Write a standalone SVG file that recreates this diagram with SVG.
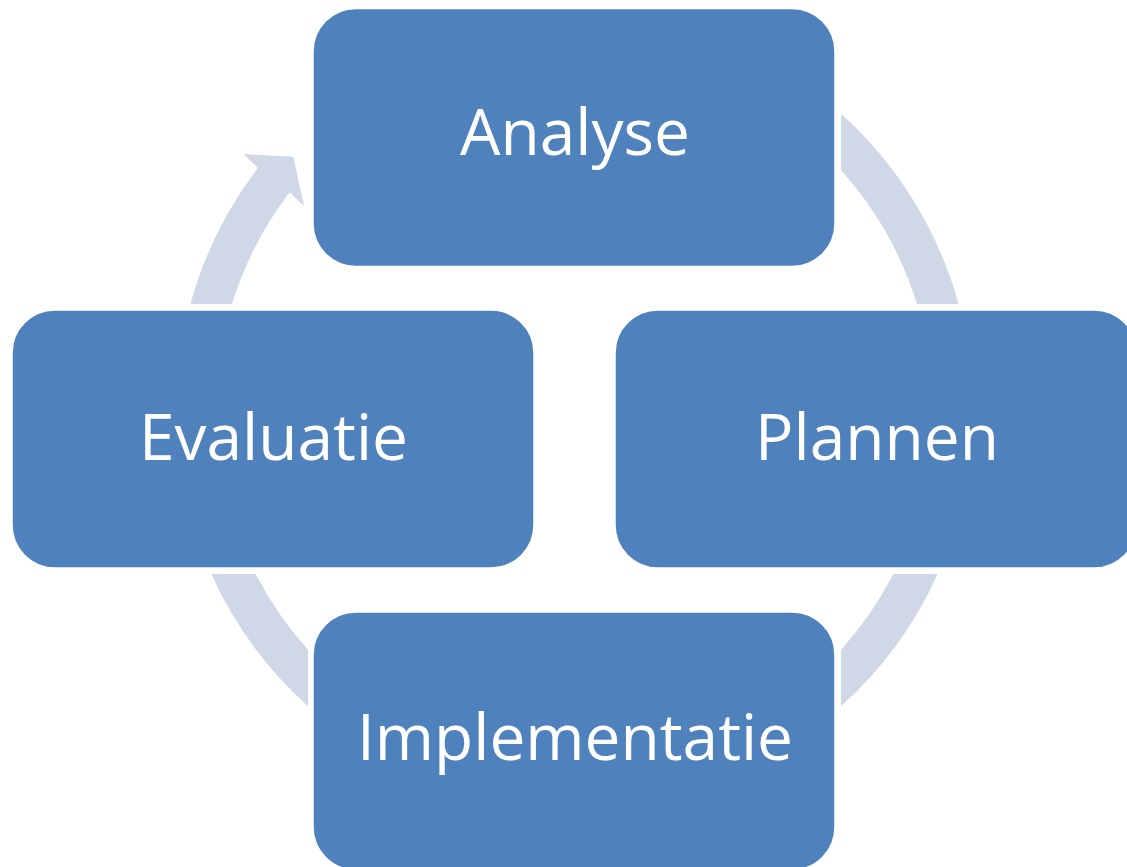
<svg xmlns="http://www.w3.org/2000/svg" width="1127" height="867" viewBox="0 0 1127 867">
  <style>
    .node rect { fill: #4F81BD; stroke: #FFFFFF; stroke-width: 1.5; }
    .node text { fill: #FFFFFF; font-family: "Open Sans", "Noto Sans", "Liberation Sans", sans-serif; font-size: 64px; text-anchor: middle; }
    .ring { fill: #D0D8E8; stroke: none; }
  </style>
  <rect width="1127" height="867" fill="#FFFFFF"/>
  <g id="connectors">
    <path class="ring" d="M841,113.7 A398.5,398.5 0 0 1 958.6,304 L917,304 A358.5,358.5 0 0 0 841,170.2 Z"/>
    <path class="ring" d="M937.7,574 A398.5,398.5 0 0 1 841,706.3 L841,649.8 A358.5,358.5 0 0 0 893.3,574 Z"/>
    <path class="ring" d="M308,706.3 A398.5,398.5 0 0 1 211.3,574 L255.7,574 A358.5,358.5 0 0 0 308,649.8 Z"/>
    <path class="ring" d="M190.4,304 A398.5,398.5 0 0 1 257.9,168 L243.5,154 L293.3,156.7 L304,206 L289.7,192.25 A358.5,358.5 0 0 0 232,304 Z"/>
  </g>
  <g id="node-analyse" class="node">
    <rect x="313" y="8.5" width="522" height="258" rx="43" ry="43"/>
    <text x="575" y="155">Analyse</text>
  </g>
  <g id="node-plannen" class="node">
    <rect x="615" y="310" width="522" height="258" rx="43" ry="43"/>
    <text x="877" y="460">Plannen</text>
  </g>
  <g id="node-implementatie" class="node">
    <rect x="313" y="612" width="522" height="258" rx="43" ry="43"/>
    <text x="575" y="760">Implementatie</text>
  </g>
  <g id="node-evaluatie" class="node">
    <rect x="12" y="310" width="522" height="258" rx="43" ry="43"/>
    <text x="273.5" y="460">Evaluatie</text>
  </g>
</svg>
